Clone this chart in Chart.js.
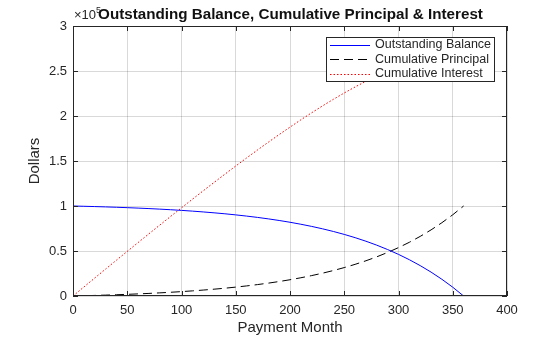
<!DOCTYPE html>
<html>
<head>
<meta charset="utf-8">
<script src="https://cdn.jsdelivr.net/npm/chart.js@4.4.1/dist/chart.umd.min.js"></script>
<style>
  body { margin: 0; background: #fff; }
  canvas { display: block; }
</style>
</head>
<body>
<canvas id="grafico" width="560" height="337"></canvas>
<script>
// Dados (mês de pagamento e valores em dólares)
const meses = [0, 10, 20, 30, 40, 50, 60, 70, 80, 90, 100, 110, 120, 130, 140, 150, 160, 170, 180,
    190, 200, 210, 220, 230, 240, 250, 260, 270, 280, 290, 300, 310, 320, 330, 340, 350, 360];
const saldoDevedor = [100000, 99701, 99370, 99005, 98601, 98156, 97663, 97119, 96519, 95855, 95122,
    94312, 93418, 92430, 91339, 90133, 88802, 87331, 85706, 83911, 81928, 79738, 77319, 74647, 71695,
    68434, 64832, 60854, 56459, 51604, 46241, 40318, 33774, 26546, 18561, 9742, 0];
const principalAcumulado = [0, 299, 630, 995, 1399, 1844, 2337, 2881, 3481, 4145, 4878, 5688, 6582,
    7570, 8661, 9867, 11198, 12669, 14294, 16089, 18072, 20262, 22681, 25353, 28305, 31566, 35168,
    39146, 43541, 48396, 53759, 59682, 66226, 73454, 81439, 90258, 100000];
const jurosAcumulados = [0, 9987, 19942, 29863, 39746, 49586, 59380, 69122, 78808, 88430, 97983,
    107459, 116851, 126149, 135344, 144425, 153379, 162195, 170856, 179347, 187650, 195746, 203613,
    211227, 218561, 225587, 232271, 238579, 244470, 249901, 254824, 259187, 262929, 265987, 268288,
    269755, 270300];
const ticksX = [0, 50, 100, 150, 200, 250, 300, 350, 400];
const ticksY = [0, 50000, 100000, 150000, 200000, 250000, 300000];

const titulo = "Outstanding Balance, Cumulative Principal & Interest";
const nomesSeries = ["Outstanding Balance", "Cumulative Principal", "Cumulative Interest"];

const corTexto = "#262626";
const fonte = "'Liberation Sans', Arial, sans-serif";

function pontos(valores) {
    return meses.map((m, i) => ({ x: m, y: valores[i] }));
}

// Plugin para desenhar a caixa dos eixos, os ticks internos, os textos e a legenda
const estiloMatlab = {
    id: "estiloMatlab",
    afterDraw(chart) {
        const ctx = chart.ctx;
        const a = chart.chartArea;
        const sx = chart.scales.x, sy = chart.scales.y;
        ctx.save();

        // caixa
        ctx.strokeStyle = corTexto;
        ctx.lineWidth = 1;
        ctx.strokeRect(a.left + 0.5, a.top + 0.5, a.right - a.left - 1, a.bottom - a.top - 1);

        // ticks para dentro
        ctx.beginPath();
        ticksX.forEach(v => {
            const px = Math.round(sx.getPixelForValue(v)) + 0.5;
            ctx.moveTo(px, a.bottom); ctx.lineTo(px, a.bottom - 5);
            ctx.moveTo(px, a.top); ctx.lineTo(px, a.top + 5);
        });
        ticksY.forEach(v => {
            const py = Math.round(sy.getPixelForValue(v)) + 0.5;
            ctx.moveTo(a.left, py); ctx.lineTo(a.left + 5, py);
            ctx.moveTo(a.right, py); ctx.lineTo(a.right - 5, py);
        });
        ctx.stroke();

        // expoente do eixo y
        ctx.fillStyle = corTexto;
        ctx.textBaseline = "alphabetic";
        ctx.textAlign = "left";
        ctx.font = "13px " + fonte;
        ctx.fillText("×10", 74, 19);
        const w10 = ctx.measureText("×10").width;
        ctx.font = "9px " + fonte;
        ctx.fillText("5", 74 + w10, 13);

        // título
        ctx.fillStyle = "#111";
        ctx.font = "bold 15.2px " + fonte;
        ctx.textAlign = "center";
        ctx.fillText(titulo, 290.5, 19);

        // rótulos dos eixos
        ctx.fillStyle = corTexto;
        ctx.font = "15px " + fonte;
        ctx.textBaseline = "middle";
        ctx.fillText("Payment Month", 290, 328);
        ctx.save();
        ctx.translate(35, 161);
        ctx.rotate(-Math.PI / 2);
        ctx.fillText("Dollars", 0, 0);
        ctx.restore();

        // legenda
        const lx = 326, ly = 37, lw = 169, lh = 45;
        ctx.fillStyle = "#fff";
        ctx.fillRect(lx, ly, lw, lh);
        ctx.strokeStyle = corTexto;
        ctx.strokeRect(lx + 0.5, ly + 0.5, lw - 1, lh - 1);
        ctx.font = "12.5px " + fonte;
        ctx.textAlign = "left";
        chart.data.datasets.forEach((ds, i) => {
            const y = 45 + i * 14.3;
            ctx.beginPath();
            ctx.strokeStyle = ds.borderColor;
            ctx.setLineDash(ds.borderDash || []);
            ctx.moveTo(330, Math.round(y) + 0.5);
            ctx.lineTo(370, Math.round(y) + 0.5);
            ctx.stroke();
            ctx.setLineDash([]);
            ctx.fillStyle = corTexto;
            ctx.fillText(ds.label, 375, y);
        });
        ctx.restore();
    }
};

const config = {
    type: "line",
    data: {
        datasets: [{
            label: nomesSeries[0],
            data: pontos(saldoDevedor),
            borderColor: "#0000ff",
            borderWidth: 1,
        }, {
            label: nomesSeries[1],
            data: pontos(principalAcumulado),
            borderColor: "#000000",
            borderWidth: 1,
            borderDash: [9, 5],
        }, {
            label: nomesSeries[2],
            data: pontos(jurosAcumulados),
            borderColor: "#ff0000",
            borderWidth: 1,
            borderDash: [1.5, 2],
        }]
    },
    options: {
        responsive: false,
        animation: false,
        elements: { point: { radius: 0 }, line: { tension: 0 } },
        layout: { padding: { top: 26, right: 53, left: 0, bottom: 0 } },
        plugins: { legend: { display: false }, title: { display: false }, tooltip: { enabled: false } },
        scales: {
            x: {
                type: "linear",
                min: 0, max: 400,
                afterFit(scale) { scale.height = 41; },
                afterBuildTicks(scale) { scale.ticks = ticksX.map(v => ({ value: v })); },
                grid: { color: "rgba(0,0,0,0.15)", drawTicks: false },
                border: { display: false },
                ticks: { color: corTexto, font: { family: fonte, size: 13 }, padding: 7, maxRotation: 0 }
            },
            y: {
                type: "linear",
                min: 0, max: 300000,
                afterFit(scale) { scale.width = 73; },
                afterBuildTicks(scale) { scale.ticks = ticksY.map(v => ({ value: v })); },
                grid: { color: "rgba(0,0,0,0.15)", drawTicks: false },
                border: { display: false },
                ticks: {
                    color: corTexto, font: { family: fonte, size: 13 }, padding: 6,
                    callback: v => String(v / 100000)
                }
            }
        }
    },
    plugins: [estiloMatlab]
};

const grafico = new Chart(document.getElementById("grafico"), config);
</script>
</body>
</html>
